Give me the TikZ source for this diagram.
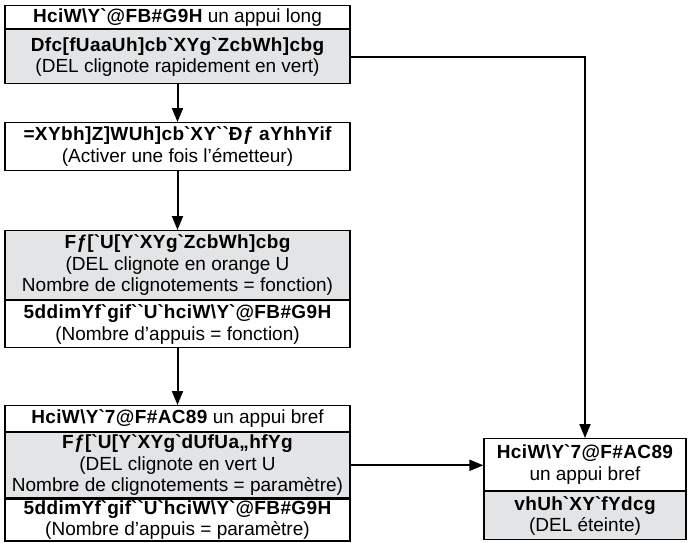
\documentclass[tikz,border=0pt]{standalone}
\usepackage{fontspec}
\setmainfont{Liberation Sans}
\usepackage{tikz}
\usetikzlibrary{arrows.meta}
\usetikzlibrary{positioning}
\definecolor{boxgray}{rgb}{0.890196,0.894118,0.901961}
\newcommand{\garb}[1]{{\bfseries\addfontfeature{LetterSpace=2.0}#1}}
\newcommand{\gk}{\textasciigrave}
\newcommand{\bs}{\textbackslash}

\begin{document}
\begin{tikzpicture}[x=1pt,y=-1pt,
    rowbox/.style={draw, line width=1.2pt, minimum width=345pt, inner sep=0pt,
      align=center, anchor=north, font=\fontsize{19}{21.5}\selectfont},
    rowgray/.style={rowbox, fill=boxgray},
    sidebox/.style={minimum width=202pt},
    flowarrow/.style={line width=2pt, -{Triangle[length=14pt,width=11pt]}}]
  \useasboundingbox (0.000000,0.000000) rectangle (689.000000,542.000000);

  % Drawing box 1 (programmation)
  \node[rowbox, minimum height=23pt] (b1h) at (177.500000,5.000000)
    {\garb{HciW\bs Y\gk @FB\#G9H} un appui long};
  \node[rowgray, minimum height=54pt, below=0pt of b1h] (b1g)
    {\garb{Dfc[fUaaUh]cb\gk XYg\gk ZcbWh]cbg}\\(DEL clignote rapidement en vert)};

  % Drawing box 2 (emetteur)
  \node[rowbox, minimum height=48pt] (b2) at (177.500000,122.000000)
    {\garb{=XYbh]Z]WUh]cb\gk XY\gk\gk Ðƒ aYhhYif}\\(Activer une fois l’émetteur)};

  % Drawing box 3 (fonction)
  \node[rowgray, minimum height=69pt] (b3g) at (177.500000,230.000000)
    {\garb{Fƒ[\gk U[Y\gk XYg\gk ZcbWh]cbg}\\(DEL clignote en orange U\\Nombre de clignotements = fonction)};
  \node[rowbox, minimum height=47pt, below=0pt of b3g] (b3w)
    {\garb{5ddimYf\gk gif\gk\gk U\gk hciW\bs Y\gk @FB\#G9H}\\(Nombre d’appuis = fonction)};

  % Drawing box 4 (parametre)
  \node[rowbox, minimum height=26pt] (b4h) at (177.500000,405.000000)
    {\garb{HciW\bs Y\gk 7@F\#AC89} un appui bref};
  \node[rowgray, minimum height=65pt, below=0pt of b4h] (b4g)
    {\garb{Fƒ[\gk U[Y\gk XYg\gk dUfUa„hfYg}\\(DEL clignote en vert U\\Nombre de clignotements = paramètre)};
  \node[rowbox, minimum height=42pt, below=0pt of b4g] (b4w)
    {\garb{5ddimYf\gk gif\gk\gk U\gk hciW\bs Y\gk @FB\#G9H}\\(Nombre d’appuis = paramètre)};

  % Drawing box 5 (repos)
  \node[rowbox, sidebox, minimum height=52pt] (b5w) at (585.000000,438.000000)
    {\garb{HciW\bs Y\gk 7@F\#AC89}\\un appui bref};
  \node[rowgray, sidebox, minimum height=48pt, below=0pt of b5w] (b5g)
    {\garb{vhUh\gk XY\gk fYdcg}\\(DEL éteinte)};

  % Drawing arrows
  \draw[flowarrow] (b1g.south) -- (b2.north);
  \draw[flowarrow] (b2.south) -- (b3g.north);
  \draw[flowarrow] (b3w.south) -- (b4h.north);
  \draw[flowarrow] (b4g.east) -- (b4g.east -| b5w.west);
  \draw[flowarrow] (b1g.east) -- (b1g.east -| b5w.north) -- (b5w.north);
\end{tikzpicture}
\end{document}
